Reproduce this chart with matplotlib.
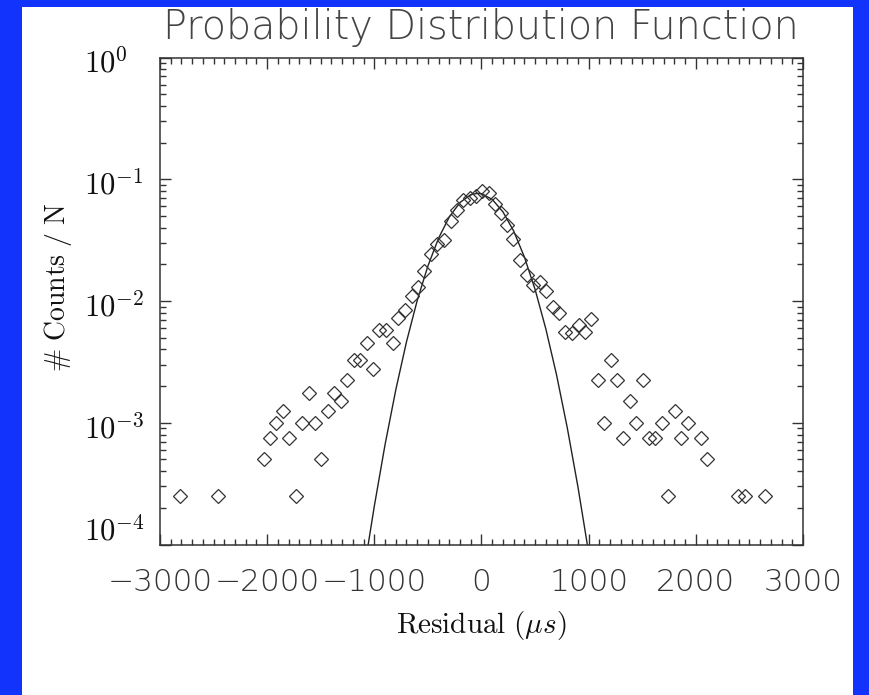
import matplotlib
matplotlib.use('Agg')
import matplotlib.pyplot as plt
from matplotlib.patches import Rectangle
from matplotlib.ticker import FixedLocator, MultipleLocator, LogLocator, NullFormatter

plt.rcParams['mathtext.fontset'] = 'cm'

# histogram of residuals (counts / N)
residual = [-2812, -2458, -2032, -1970, -1917, -1855, -1793, -1734, -1675, -1613,
            -1557, -1498, -1432, -1374, -1311, -1252, -1193, -1134, -1072, -1010,
            -957, -895, -829, -777, -712, -647, -594, -538, -475, -419,
            -351, -289, -230, -171, -109, -53, 6, 68, 124, 183,
            242, 295, 360, 422, 481, 544, 606, 668, 724, 783,
            848, 907, 963, 1025, 1084, 1146, 1205, 1267, 1320, 1382,
            1444, 1506, 1559, 1622, 1683, 1739, 1805, 1864, 1923, 2050,
            2103, 2395, 2463, 2643]
counts_n = [2.5e-4, 2.5e-4, 5e-4, 7.5e-4, 1e-3, 1.25e-3, 7.5e-4, 2.5e-4, 1e-3, 1.75e-3,
            1e-3, 5e-4, 1.25e-3, 1.75e-3, 1.5e-3, 2.25e-3, 3.25e-3, 3.25e-3, 4.5e-3, 2.75e-3,
            5.75e-3, 5.75e-3, 4.5e-3, 7.25e-3, 8.5e-3, 1.1e-2, 1.3e-2, 1.77e-2, 2.42e-2, 2.92e-2,
            3.15e-2, 4.54e-2, 5.6e-2, 6.76e-2, 6.97e-2, 7.33e-2, 8.05e-2, 7.76e-2, 6.23e-2, 5.3e-2,
            4.19e-2, 3.23e-2, 2.17e-2, 1.63e-2, 1.35e-2, 1.43e-2, 1.21e-2, 8.93e-3, 8.0e-3, 5.53e-3,
            5.5e-3, 6.3e-3, 5.53e-3, 7.08e-3, 2.25e-3, 1e-3, 3.25e-3, 2.25e-3, 7.5e-4, 1.5e-3,
            1e-3, 2.25e-3, 7.5e-4, 7.5e-4, 1e-3, 2.5e-4, 1.25e-3, 7.5e-4, 1e-3, 7.5e-4,
            5e-4, 2.5e-4, 2.5e-4, 2.5e-4]

# gaussian fit
fit_x = [-1057, -1000, -900, -800, -700, -600, -500, -400, -300, -200, -100, -35,
         0, 100, 200, 300, 400, 500, 600, 700, 800, 900, 988]
fit_y = [1.006e-4, 2.07e-4, 6.61e-4, 1.86e-3, 4.62e-3, 1.009e-2, 1.94e-2, 3.29e-2,
         4.91e-2, 6.45e-2, 7.47e-2, 7.67e-2, 7.61e-2, 6.83e-2, 5.40e-2, 3.76e-2,
         2.30e-2, 1.245e-2, 5.92e-3, 2.48e-3, 9.13e-4, 2.97e-4, 9.93e-5]

xticks = [-3000, -2000, -1000, 0, 1000, 2000, 3000]
xtick_labels = ['\u22123000', '\u22122000', '\u22121000', '0', '1000', '2000', '3000']
yticks = [1e0, 1e-1, 1e-2, 1e-3, 1e-4]
ytick_labels = [r'$10^{0}$', r'$10^{-1}$', r'$10^{-2}$', r'$10^{-3}$', r'$10^{-4}$']

W, H = 870, 695
fig = plt.figure(figsize=(W / 100, H / 100), dpi=100)
fig.patch.set_facecolor('#1133fb')
fig.add_artist(Rectangle((22 / W, 0), (853 - 22) / W, (H - 7) / H,
                         transform=fig.transFigure, facecolor='white', edgecolor='none', zorder=0))

ax = fig.add_axes([160 / W, 1 - 544.5 / H, 643 / W, 487 / H])
ax.set_facecolor('white')
ax.set_zorder(1)

ax.plot(fit_x, fit_y, color='#222222', lw=1.0, zorder=2)
ax.plot(residual, counts_n, linestyle='none', marker='D', markersize=6.8,
        markerfacecolor='none', markeredgecolor='#333333', markeredgewidth=0.9, zorder=3)

ax.set_yscale('log')
ax.set_xlim(-3000, 3000)
ax.set_ylim(1e-4, 1)

ax.xaxis.set_major_locator(FixedLocator(xticks))
ax.xaxis.set_minor_locator(MultipleLocator(100))
ax.set_xticklabels(xtick_labels, family='DejaVu Sans', weight='light', fontsize=22.5)
ax.yaxis.set_major_locator(FixedLocator(yticks))
ax.yaxis.set_minor_locator(LogLocator(base=10, subs=range(2, 10)))
ax.yaxis.set_major_formatter(NullFormatter())
ax.yaxis.set_minor_formatter(NullFormatter())

ax.tick_params(which='both', direction='in', top=True, right=True, color='#333333', width=1.0)
ax.tick_params(which='major', length=8)
ax.tick_params(which='minor', length=4.5)
ax.tick_params(axis='x', which='major', pad=17, labelcolor='#333333')
for s in ax.spines.values():
    s.set_linewidth(1.1)
    s.set_color('#333333')

# y tick labels: digits hang just below the tick, last one lifted above the axis
for v, lbl in zip(yticks, ytick_labels):
    dy = -5.5 if v > yticks[-1] else 13.5
    ax.annotate(lbl, xy=(0, v), xycoords=('axes fraction', 'data'),
                xytext=(-76 * 0.72, dy * 0.72), textcoords='offset points',
                ha='left', va='center', fontsize=22, color='#111111')

fig.text(480.5 / W, 1 - 39 / H, 'Probability Distribution Function', ha='center', va='baseline',
         family='DejaVu Sans', weight='light', fontsize=28.5, color='#444444')
fig.text(481 / W, 1 - 625 / H, r'$\mathrm{Residual}\ (\mu s)$', ha='center', va='center',
         fontsize=21, color='#111111')
fig.text(58 / W, 1 - 287 / H, r'$\#\ \mathrm{Counts}\ /\ \mathrm{N}$', ha='center', va='center',
         rotation=90, fontsize=20, color='#111111')

fig.savefig('out.png', dpi=100, facecolor=fig.get_facecolor())
